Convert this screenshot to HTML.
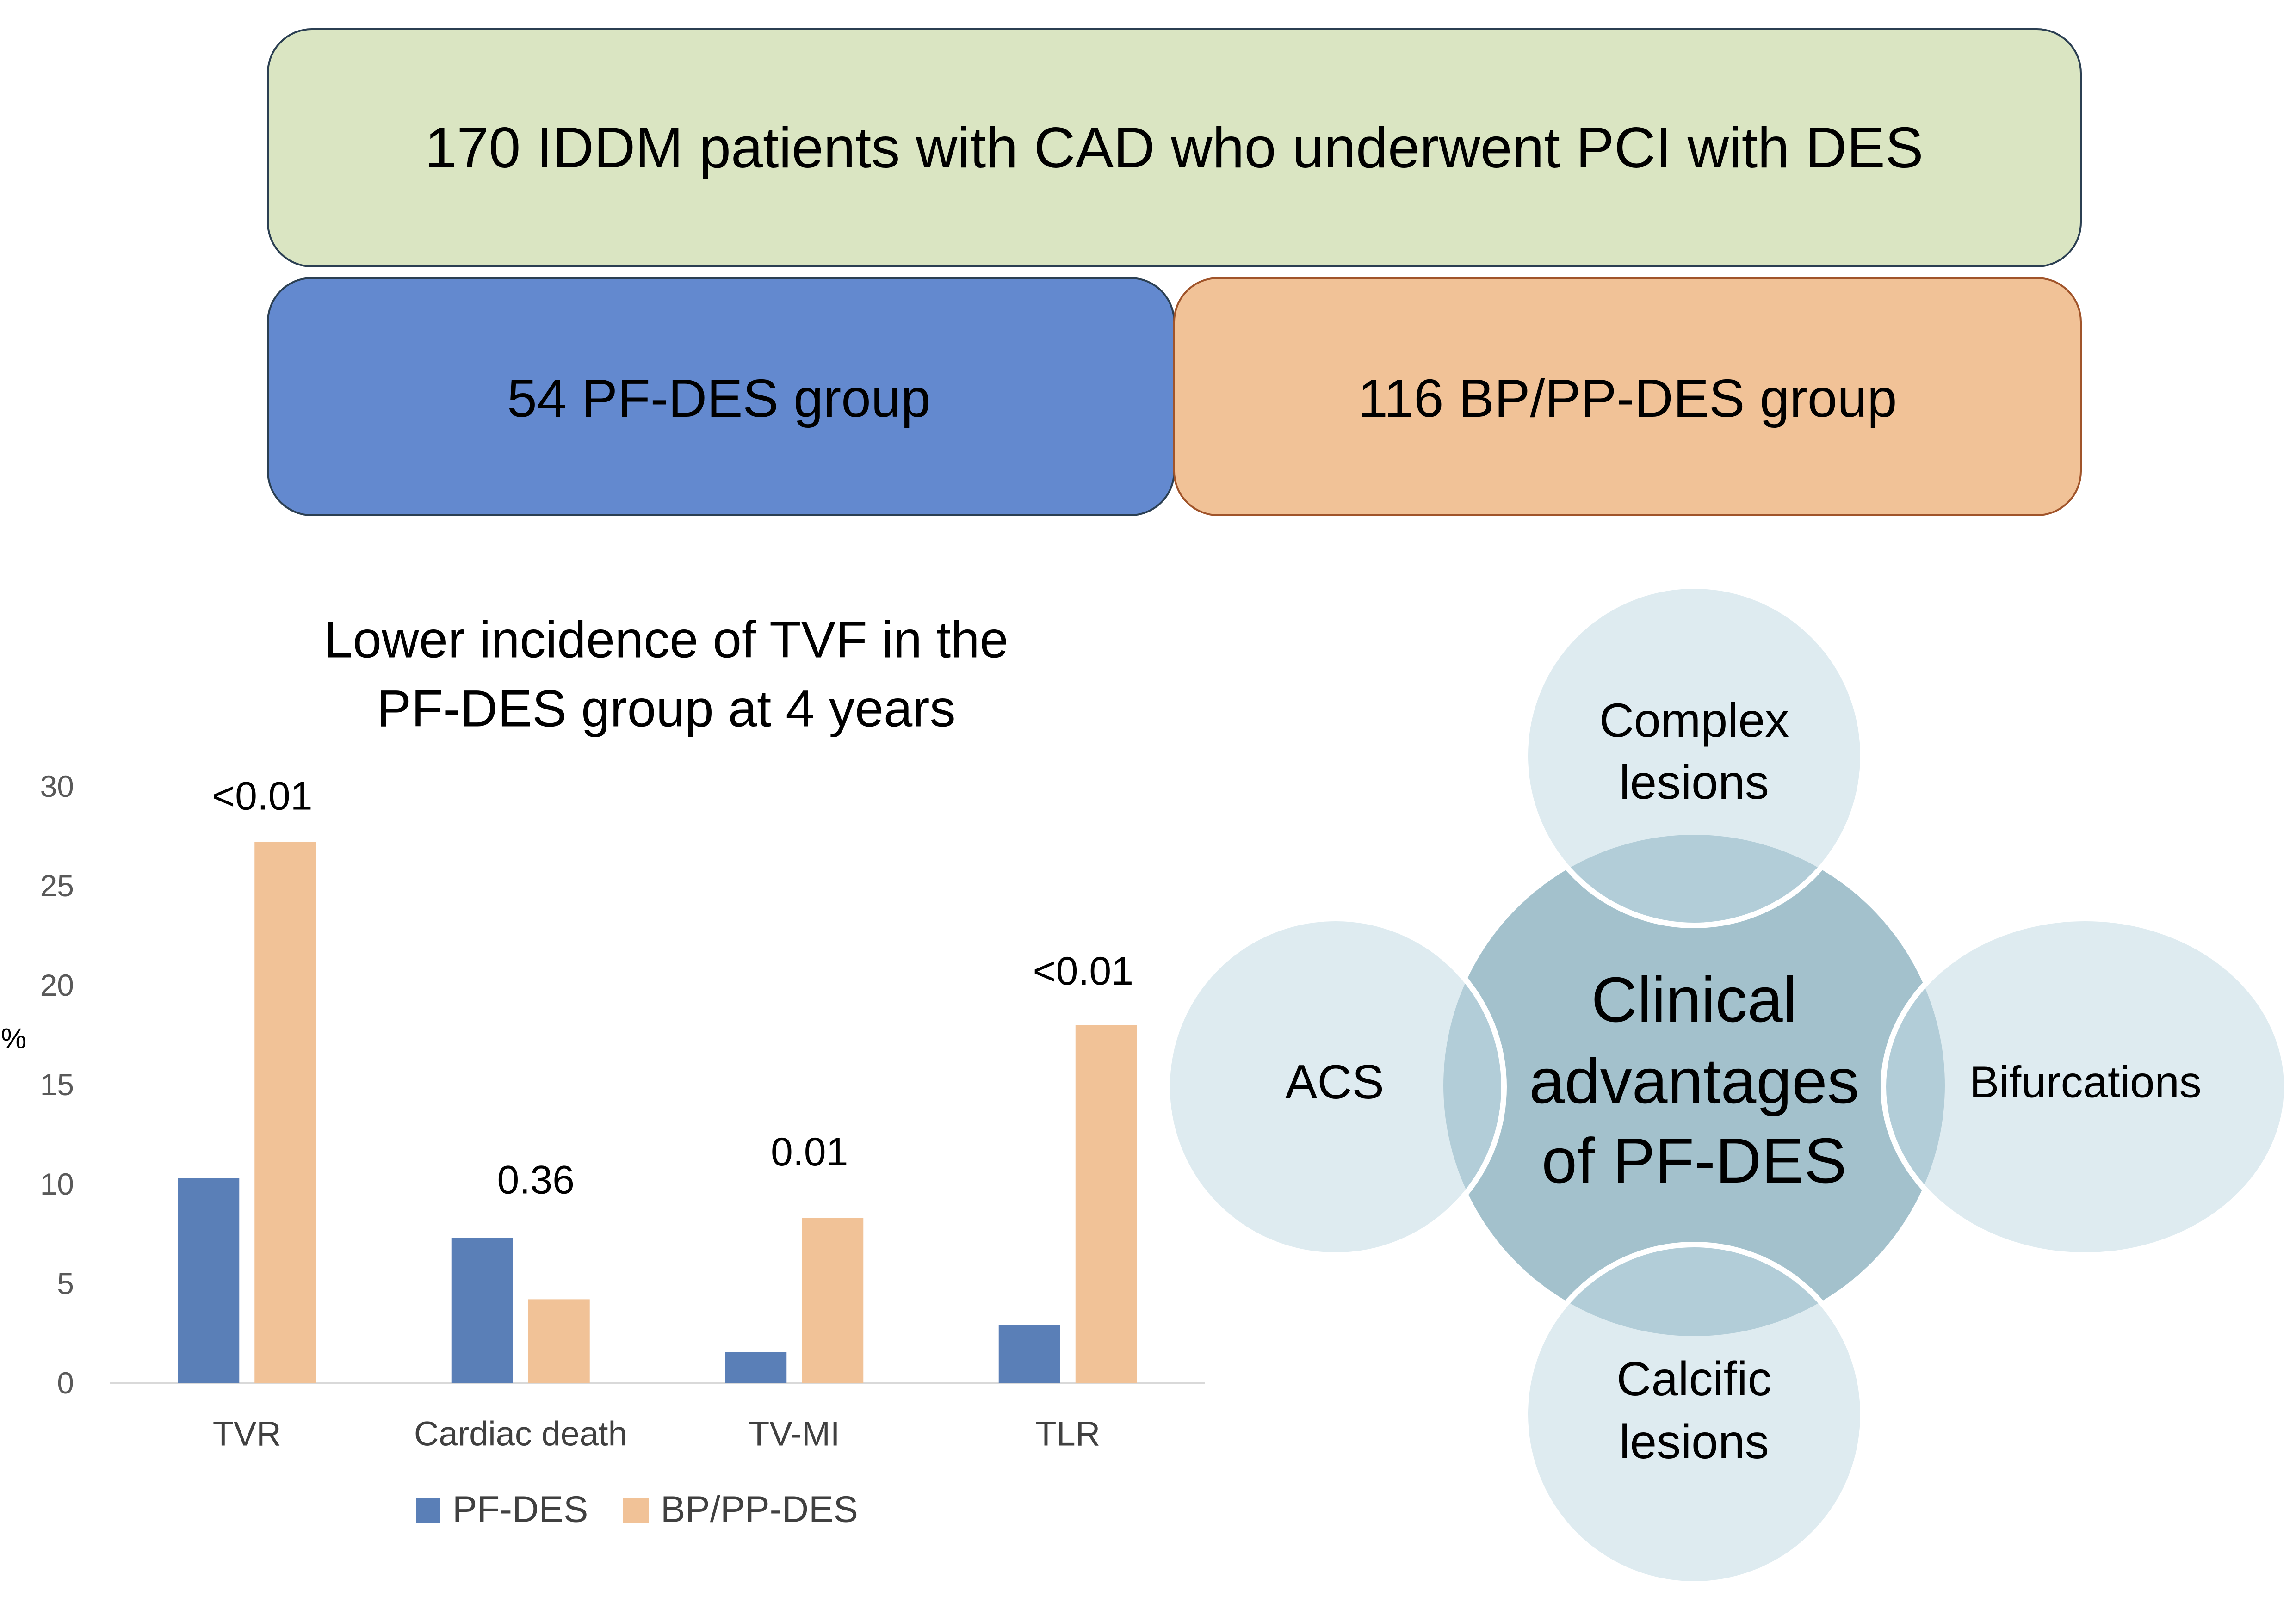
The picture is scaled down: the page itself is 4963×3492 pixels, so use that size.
<!DOCTYPE html>
<html><head><meta charset="utf-8"><style>
html,body{margin:0;padding:0;background:#fff}
svg{display:block;font-family:"Liberation Sans",sans-serif}
</style></head><body>
<svg id="root" width="4963" height="3492" viewBox="0 0 4963 3492" xmlns="http://www.w3.org/2000/svg">
<rect x="579" y="63" width="3919" height="513" rx="95" fill="#dae5c2" stroke="#2b3f52" stroke-width="4"/>
<text x="2538" y="320" font-size="124" text-anchor="middle" dominant-baseline="central">170 IDDM patients with CAD who underwent PCI with DES</text>
<rect x="579" y="601" width="1959" height="513" rx="95" fill="#6389cf" stroke="#2b3f52" stroke-width="4"/>
<text x="1554" y="861" font-size="116" text-anchor="middle" dominant-baseline="central">54 PF-DES group</text>
<rect x="2538" y="601" width="1960" height="513" rx="95" fill="#f1c297" stroke="#a0542a" stroke-width="4"/>
<text x="3518" y="861" font-size="116" text-anchor="middle" dominant-baseline="central">116 BP/PP-DES group</text>

<g>
<text x="1440" y="1383" font-size="112" text-anchor="middle" dominant-baseline="central">Lower incidence of TVF in the</text>
<text x="1440" y="1532" font-size="112" text-anchor="middle" dominant-baseline="central">PF-DES group at 4 years</text>
</g>
<g id="chart"></g>

<g>
<circle cx="3662" cy="2347" r="542" fill="#a3c1cc"/>
<g fill="rgb(192,216,226)" fill-opacity="0.52" stroke="#fff" stroke-width="12">
<ellipse cx="3662" cy="1634" rx="365" ry="367"/>
<ellipse cx="3662" cy="3058" rx="365" ry="367"/>
<ellipse cx="2887" cy="2350" rx="364" ry="364"/>
<ellipse cx="4507" cy="2350" rx="436" ry="364"/>
</g>
<g font-size="104" text-anchor="middle" dominant-baseline="central">
<text x="3662" y="1558">Complex</text>
<text x="3662" y="1692">lesions</text>
<text x="2885" y="2340">ACS</text>
<text x="4508" y="2340" font-size="96">Bifurcations</text>
<text x="3662" y="2982">Calcific</text>
<text x="3662" y="3118">lesions</text>
</g>
<g font-size="138" text-anchor="middle" dominant-baseline="central">
<text x="3662" y="2162">Clinical</text>
<text x="3662" y="2338">advantages</text>
<text x="3662" y="2510">of PF-DES</text>
</g>
</g>
</svg>
<script>
const categories = ["TVR", "Cardiac death", "TV-MI", "TLR"];
const pfValues = [10.3, 7.3, 1.55, 2.9];
const bpValues = [27.2, 4.2, 8.3, 18.0];
const pLabels = ["<0.01", "0.36", "0.01", "<0.01"];
const pLabelValues = [29.5, 10.2, 11.6, 20.7];
const yTicks = [0, 5, 10, 15, 20, 25, 30];

const NS = "http://www.w3.org/2000/svg";
const g = document.getElementById("chart");
const left = 238, right = 2604, y0 = 2990, y30 = 1700;
const yScale = v => y0 - (v / 30) * (y0 - y30);
const band = (right - left) / categories.length;
const xCenter = i => left + band * (i + 0.5);
const barW = 133, gap = 33;
function mk(tag, attrs, text) {
  const e = document.createElementNS(NS, tag);
  for (const k in attrs) e.setAttribute(k, attrs[k]);
  if (text !== undefined) e.textContent = text;
  g.appendChild(e);
  return e;
}
yTicks.forEach(t => {
  const e = mk("text", {x: 160, y: yScale(t), "font-size": 66, fill: "#595959", "text-anchor": "end", "dominant-baseline": "central"}, String(t));
  
  
});
const pct = mk("text", {x: 2, y: 2246, "font-size": 62, "dominant-baseline": "central"}, "%");


const ax = mk("line", {x1: left, x2: right, y1: y0, y2: y0, stroke: "#d9d9d9", "stroke-width": 4});


categories.forEach((c, i) => {
  const cx = xCenter(i);
  const b1 = mk("rect", {x: cx - gap / 2 - barW, y: yScale(pfValues[i]), width: barW, height: y0 - yScale(pfValues[i]), fill: "#5a7fb7"});
  
  
  const b2 = mk("rect", {x: cx + gap / 2, y: yScale(bpValues[i]), width: barW, height: y0 - yScale(bpValues[i]), fill: "#f1c297"});
  
  
  const lab = mk("text", {x: cx, y: 3100, "font-size": 74, fill: "#404040", "text-anchor": "middle", "dominant-baseline": "central"}, c);
  
  
  const p = mk("text", {x: cx + gap / 2 + barW / 2 - 50, y: yScale(pLabelValues[i]), "font-size": 86, "text-anchor": "middle", "dominant-baseline": "central"}, pLabels[i]);
  
  
});
const l1 = mk("rect", {x: 899, y: 3240, width: 53, height: 53, fill: "#5a7fb7"});


const t1 = mk("text", {x: 978, y: 3263, "font-size": 80, fill: "#404040", "dominant-baseline": "central"}, "PF-DES");


const l2 = mk("rect", {x: 1347, y: 3240, width: 56, height: 53, fill: "#f1c297"});


const t2 = mk("text", {x: 1428, y: 3263, "font-size": 80, fill: "#404040", "dominant-baseline": "central"}, "BP/PP-DES");


</script>
</body></html>
